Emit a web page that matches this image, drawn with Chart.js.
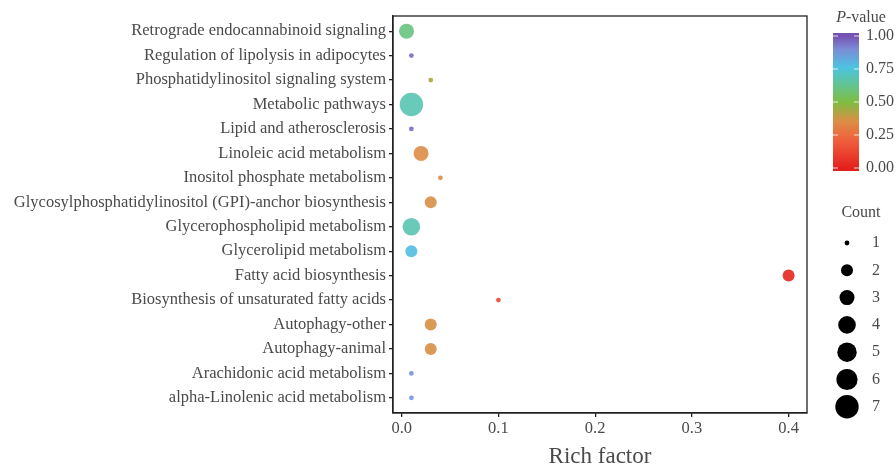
<!DOCTYPE html>
<html>
<head>
<meta charset="utf-8">
<script src="https://cdn.jsdelivr.net/npm/chart.js@4.4.1/dist/chart.umd.min.js"></script>
<style>
  html, body { margin: 0; padding: 0; background: #fff; }
  #wrap { width: 896px; height: 468px; }
</style>
</head>
<body>
<div id="wrap"><canvas id="miGrafico" width="896" height="468"></canvas></div>
<script>
const pathways = [
  'Retrograde endocannabinoid signaling',
  'Regulation of lipolysis in adipocytes',
  'Phosphatidylinositol signaling system',
  'Metabolic pathways',
  'Lipid and atherosclerosis',
  'Linoleic acid metabolism',
  'Inositol phosphate metabolism',
  'Glycosylphosphatidylinositol (GPI)-anchor biosynthesis',
  'Glycerophospholipid metabolism',
  'Glycerolipid metabolism',
  'Fatty acid biosynthesis',
  'Biosynthesis of unsaturated fatty acids',
  'Autophagy-other',
  'Autophagy-animal',
  'Arachidonic acid metabolism',
  'alpha-Linolenic acid metabolism'
];
const richFactor = [0.005, 0.01, 0.03, 0.01, 0.01, 0.02, 0.04, 0.03, 0.01, 0.01, 0.4, 0.1, 0.03, 0.03, 0.01, 0.01];
const counts = [3, 1, 1, 7, 1, 3, 1, 2, 4, 2, 2, 1, 2, 2, 1, 1];
const pValues = [0.6, 0.95, 0.43, 0.68, 0.95, 0.35, 0.36, 0.36, 0.68, 0.78, 0.02, 0.14, 0.36, 0.36, 0.88, 0.88];

const xTicks = [0, 0.1, 0.2, 0.3, 0.4];
const pTicks = [0, 0.25, 0.5, 0.75, 1];
const countTicks = [1, 2, 3, 4, 5, 6, 7];
const countRadius = [2.4, 6, 7.5, 8.8, 9.7, 10.6, 11.7];

// rampa de color para p-value
const stops = [
  [0, [227, 33, 28]], [0.2, [240, 92, 60]], [0.35, [222, 140, 70]], [0.5, [125, 190, 66]],
  [0.62, [100, 196, 140]], [0.76, [76, 196, 226]], [0.9, [124, 140, 214]], [1, [117, 82, 178]]
];
function pColor(p, alpha) {
  for (let i = 1; i < stops.length; i++) {
    if (p <= stops[i][0]) {
      const a = stops[i - 1], b = stops[i];
      const t = (p - a[0]) / (b[0] - a[0]);
      const c = a[1].map((v, k) => Math.round(v + (b[1][k] - v) * t));
      return 'rgba(' + c.join(',') + ',' + alpha + ')';
    }
  }
  return 'rgba(' + stops[stops.length - 1][1].join(',') + ',' + alpha + ')';
}
function sizeR(n) { return countRadius[n - 1]; }

const txt = '#4a4a4a';
const serif = "'Liberation Serif', 'DejaVu Serif', serif";

const leyendas = {
  id: 'leyendas',
  afterDraw(chart) {
    const ctx = chart.ctx;
    const a = chart.chartArea;
    ctx.save();
    // marco
    ctx.strokeStyle = '#222';
    ctx.lineWidth = 1.3;
    ctx.strokeRect(a.left, a.top, a.right - a.left, a.bottom - a.top);

    // colorbar
    const bx = 833, bw = 26, top = 33, bot = 171, y1 = 36, y0 = 168;
    const g = ctx.createLinearGradient(0, y0, 0, y1);
    stops.forEach(s => g.addColorStop(s[0], 'rgb(' + s[1].join(',') + ')'));
    ctx.fillStyle = g;
    ctx.fillRect(bx, top, bw, bot - top);
    ctx.fillStyle = txt;
    ctx.font = '16px ' + serif;
    ctx.textBaseline = 'middle';
    ctx.textAlign = 'left';
    ctx.strokeStyle = 'rgba(255,255,255,0.8)';
    ctx.lineWidth = 1;
    pTicks.forEach(p => {
      const y = y0 + (y1 - y0) * p;
      ctx.beginPath();
      ctx.moveTo(bx, y); ctx.lineTo(bx + 5, y);
      ctx.moveTo(bx + bw - 5, y); ctx.lineTo(bx + bw, y);
      ctx.stroke();
      ctx.fillText(p.toFixed(2), 866, y);
    });
    // titulo P-value
    ctx.font = 'italic 16px ' + serif;
    const wP = ctx.measureText('P').width;
    ctx.font = '16px ' + serif;
    const wR = ctx.measureText('-value').width;
    const sx = 861 - (wP + wR) / 2;
    ctx.font = 'italic 16px ' + serif;
    ctx.fillText('P', sx, 18);
    ctx.font = '16px ' + serif;
    ctx.fillText('-value', sx + wP, 18);

    // leyenda de tamaño
    ctx.textAlign = 'center';
    ctx.fillText('Count', 861, 213);
    countTicks.forEach((n, i) => {
      const y = 243 + i * 27.3;
      ctx.fillStyle = '#000';
      ctx.beginPath();
      ctx.arc(847, y, sizeR(n), 0, Math.PI * 2);
      ctx.fill();
      ctx.fillStyle = txt;
      ctx.fillText(String(n), 876, y);
    });
    ctx.restore();
  }
};

document.addEventListener('DOMContentLoaded', () => {
  const canvas = document.getElementById('miGrafico');
  new Chart(canvas.getContext('2d'), {
    type: 'bubble',
    data: {
      datasets: [{
        data: pathways.map((p, i) => ({ x: richFactor[i], y: i, r: sizeR(counts[i]) })),
        backgroundColor: pValues.map(p => pColor(p, 0.9)),
        borderWidth: 0,
        hoverBorderWidth: 0
      }]
    },
    options: {
      responsive: false,
      animation: false,
      events: [],
      layout: { padding: { top: 16, right: 89, left: 0, bottom: 0 } },
      plugins: { legend: { display: false }, tooltip: { enabled: false } },
      scales: {
        x: {
          type: 'linear',
          min: -0.009,
          max: 0.419,
          afterBuildTicks: s => { s.ticks = xTicks.map(v => ({ value: v })); },
          afterFit: s => { s.height = 55; },
          ticks: {
            color: txt,
            font: { family: serif, size: 16.5 },
            padding: 2,
            callback: v => v.toFixed(1)
          },
          grid: { drawOnChartArea: false, drawTicks: true, tickLength: 4, color: '#222', lineWidth: 1.3 },
          border: { display: true, color: '#222', width: 1.3 },
          title: {
            display: true,
            text: 'Rich factor',
            color: txt,
            font: { family: serif, size: 23, lineHeight: 1 },
            padding: { top: 8, bottom: 0 }
          }
        },
        y: {
          type: 'linear',
          reverse: true,
          min: -0.62,
          max: 15.62,
          afterBuildTicks: s => { s.ticks = pathways.map((p, i) => ({ value: i })); },
          afterFit: s => { s.width = 393; },
          ticks: {
            color: txt,
            font: { family: serif, size: 16.5 },
            padding: 3,
            callback: v => pathways[v]
          },
          grid: { drawOnChartArea: false, drawTicks: true, tickLength: 4, color: '#222', lineWidth: 1.3 },
          border: { display: true, color: '#222', width: 1.3 }
        }
      }
    },
    plugins: [leyendas]
  });
});
</script>
</body>
</html>
